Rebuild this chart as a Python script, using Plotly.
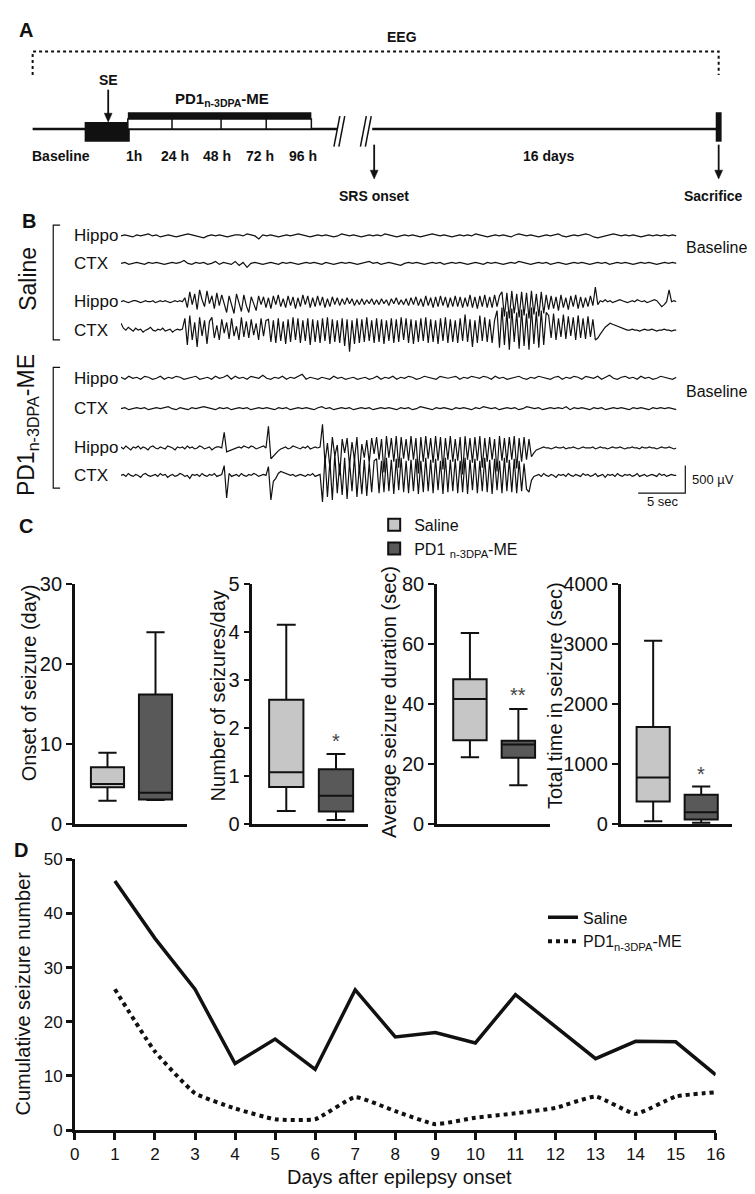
import numpy as np
import plotly.graph_objects as go

W, H = 755, 1194
FONT = "Liberation Sans, Arial, Helvetica, sans-serif"
INK = "#111111"

# ---------------- Panel B: EEG samples (amplitude in scale units; 28 units = 500 µV) ----------------
EEG_SECONDS = 59
SAL_BASE_HIPPO = [
    0, 1, 0, -1, 1, 0, 1, 2, 0, 1, -1, 0, 1, 0, -1, 0, 1, 2, 1, 0, -1, -2, 0, 1, 0, 1, 0, -1, 0, 1,
    1, 0, 2, 1, 0, -3, 1, 0, 1, 0, -1, 0, 1, 0, 1, 2, 1, 0, -1, 0, 1, 0, 1, 0, -1, 0, 2, 1, 0, 1,
    0, -1, 0, 1, 0, 1, 0, 2, 1, 0, -1, 0, 1, 0, 1, 0, -1, 0, 1, 2, 1, 0, 1, 0, -1, 0, 1, 0, 1, 0,
    2, 1, 0, -1, 0, 1, 0, 1, 0, -1, 1, 2, 1, 0, 1, 0, -1, 0, 1, 0, 1, 2, 0, -1, 0, 1, 0, 1, 2, 1,
    -1, -2, -1, 0, 1, 2, 1, 0, 1, 0, 1, 0, -1, 0, 1, 0, 1, 0, 1, 0, 1, 0]
SAL_BASE_CTX = [
    0, 1, -1, 0, 1, 0, -1, 1, 0, 1, 0, -1, 0, 1, 0, 1, 3, 0, -1, 1, 0, 1, -1, 0, 2, -1, 1, 0, -1, 2,
    -2, 1, -4, 0, 1, 0, -1, 0, 1, 0, -1, 1, 0, 1, 0, -1, 0, 1, 0, 1, 0, -1, 1, 0, -1, 0, 1, 0, 1, 0,
    -1, 0, 1, 2, 0, 1, -1, 0, 1, 0, -1, -2, 0, 1, 0, 1, 0, -1, 0, 1, 0, 1, -1, 0, 1, 0, 1, 0, -1, 0,
    1, 0, -1, 1, 0, 1, 0, -1, 0, 1, 0, 2, 1, 0, -1, 0, 1, 0, 1, -1, 0, 1, 0, -1, 0, 1, 0, 1, 0, -1,
    0, 1, 0, 1, -1, 0, 1, 0, 1, 0, -1, 0, 1, 0, 1, 0, -1, 0, 1, 0, 1, 0]
SAL_SEIZ_HIPPO = [
    0, 1, 0, -1, 0, 1, 1, 0, -1, 0, 1, 0, 0, 1, -1, 0, 1, 0, 1, 0, -1, 0, 1, 0, 1, 0,
    4, -6, 10, -3, 8, -8, 12, 2, -5, 11, -2, 6, -7, 9, -4,
    7, -2, -11, 6, -3, -12, 8, -1, -10, 7, -4, -11, 5, -2, -9, 6, -3,
    5, -6, 4, -7, 6, -3, 7, -5, 3, -6, 6, -4, 5, -7, 4, -5, 7, -3, 6, -6,
    4, -5, 6, -4, 5, -6, 3, -5, 5, -3, 4, -4, 3, -3, 4, -2, 3, -4, 2, -3,
    3, -3, 2, -2, 3, -3, 2, -3, 3, -2, 2, -4, 3, -2, 4, -3, 2, -3, 3, -4,
    4, -3, 5, -4, 3, -5, 6, -4, 4, -6, 5, -5, 6, -4, 5, -6, 4, -5, 6, -5,
    5, -6, 4, -5, 7, -6, 5, -7, 6, -5, 7, -6, 5, -6, 7, -5, 6,
    10, -15, 9, -17, 11, -12, 8, -16, 10, -14, 9, -17, 11, -13, 8, -15, 10, -12, 7,
    -8, 6, -7, 5, -9, 7, -6, 4, -8, 6, -5, 7, -7, 5, -6, 4, -5, 6, -4, 15, -3,
    1, 0, 2, 0, 1, -1, 0, 1, 2, 1, 0, -1, 0, 1, 0, 2, 1, 0, 1, -1, 0, 1, 2, 1, -2, -5, -3, 0, 12, 0, 1, 0]
SAL_SEIZ_CTX = [
    7, 2, 0, 3, 1, -1, 2, 0, 1, -2, 0, 1, 3, 0, -1, 1, 0, 2, -1, 0, 1, -2, 0, 1, 0, 1,
    12, -15, 15, -10, 8, -17, 13, -6, 10, -14, 9,
    13, -8, 5, -10, 11, -3, 8, -9, 12, -6, 4, -10, 13, -7, 9, -8, 11, -5, 7, -10, 12, -6, 10,
    11, -12, 10, -13, 12, -11, 9, -14, 11, -12, 13, -10, 12, -13, 10, -11, 12, -15, 11, -12,
    10, -13, 12, -11, 13, -14, 11, -12, 10, -13, 12, -16, 11, -22, 10, -14, 12, -13, 11, -12,
    13, -11, 10, -13, 12, -12, 11, -14, 10, -11, 12, -13, 11, -12, 13, -10, 12, -13, 11, -14,
    10, -12, 12, -11, 13, -13, 11, -12, 10, -14, 12, -11, 13, -13, 11, -12, 10, -13, 12, -11,
    16, -12, 11, -17, 10, -13, 15, -11, 13, -12, 11, -13, 10,
    20, -18, 23, -15, 19, -20, 22, -12, 18, -19, 21, -16, 17, -20, 23, -14, 19, -18, 20, -15, 18,
    15, -8, 17, -10, 12, -7, 16, -9, 14, -6, 13, -10, 15, -8, 12, -9, 14, -7, 11, -10, -8,
    -4, 0, 3, 5, 7, 6, 5, 4, 3, 2, 1, 0,
    0, 1, 0, 0, -1, 0, 1, 0, 0, 1, 0, -1, 0, 0, 1, 0, 0, -1, 0, 0]
PD1_BASE_HIPPO = [
    1, -1, 2, 0, 1, -1, 2, 1, -1, 0, 2, -1, 1, 0, 2, 1, -1, 0, 1, 2, -1, 0, 1, -1, 2, 0, 1, 3, -1, 2,
    0, 1, -1, 2, 1, 0, 3, 0, -1, 1, 0, 2, -1, 1, 0, 2, 4, -1, 1, 0, -1, 1, 0, -1, 2, 0, 1, -1, 0, 1,
    -1, 0, 1, -1, 0, 2, -1, 1, 0, 2, -1, 1, 0, 2, 1, -1, 0, 2, 1, 0, -1, 2, 1, 0, 1, 2, -1, 1, 0, 2,
    1, 0, 2, 1, -1, 2, 0, 1, -1, 0, 1, 2, 0, -1, 1, 0, 2, 1, 0, -1, 1, 2, -1, 1, 0, 2, 1, -1, 2, 1,
    0, 2, -1, 1, 3, 0, -1, 1, 2, 0, 1, -1, 2, 0, 1, -1, 0, 2, 1, 0, -1, 1]
PD1_BASE_CTX = [
    0, 1, -1, 0, 1, 0, 1, -1, 0, 1, 0, 1, 2, 0, -1, 1, 0, -1, 1, 0, 1, 2, 1, 0, -1, 1, 0, 1, -1, 0,
    1, 0, 1, -1, 0, 1, 0, 1, 0, -1, 1, 0, 1, -1, 0, 1, 0, 1, 0, -1, 1, 2, 0, 1, -1, 0, 1, 0, 1, -1,
    0, 1, 0, 1, -1, 0, 1, 0, 1, 0, -1, 1, 0, 1, -1, 0, 2, 1, 0, -1, 1, 0, 1, 0, -1, 1, 0, 1, 0, -1,
    1, 0, 2, 1, 0, 1, -1, 0, 1, 0, 1, -1, 0, 2, 1, 0, 1, -1, 0, 1, 0, 1, 0, 2, -1, 1, 0, 1, 0, -1,
    1, 0, 1, -1, 0, 1, 0, 1, 0, -1, 1, 0, 1, 0, -1, 1, 0, 1, 0, 1, 0, -1]
PD1_SEIZ_HIPPO = [
    1, -1, 2, 0, -2, 1, 0, 2, -1, 1, 0, -2, 1, 2, 0, -1, 1, 0, -1, 2, 1, 0, -2, 1, 0, 1, -1, 2, 0, 1,
    -1, 0, 2, 1, -1, 0, 1, -2, 0, 1, 1, 0,
    16, -4, -3, -2, -1, 0, 1, 0, 2, 1, 0, 2, 1, -1, 0, 1, 2, 0,
    22, -11, -8, -5, -3, -1, 0, 1, -1, 0, 2, 1, 0, -1, 1, 0, 2, -1, 0, 1, 0, 1,
    24, -15, 5, -20, 11, -8, 3, -28, 9, -5, 10, -18, 6, -12, 11, -26, 4, -10, 8, -15, 10, -6,
    11, -12, 9, -25, 12, -10, 10, -14, 12, -20, 11, -11, 9, -13, 12, -12, 10, -26, 11, -14,
    12, -11, 10, -15, 12, -13, 11, -22, 10, -12, 12, -14, 9, -13, 11, -27, 12, -12, 10, -15,
    11, -13, 12, -20, 10, -14, 11, -12, 9, -24, 12, -13, 10, -15, 11, -12, 12, -21, 10, -14,
    11, -12,
    9, -9, -5, -2, -1, 0, 1, 0, 0, -1, 0, 1, 0, 0, 1, -1, 0, 0, 1, 0, -1, 0, 1, 0, 0, 0, 1, -1, 0, 1,
    0, 0, -1, 0, 1, 0, 0, 1, 0, -1, 0, 0, 1, 0, 0, -1, 1, 0, 0, 1, 0, 0, -1, 0, 1, 0, 0, 1, 0, -1, 0]
PD1_SEIZ_CTX = [
    0, 1, -1, 2, 0, -1, 1, 0, -2, 1, 2, 0, -1, 0, 1, -1, 2, 0, 1, -2, 0, 1, -1, 0, 2, 1, -1, 0, -3, 1,
    0, 1, -1, 2, 0, -1, 1, 0, 2, -1, 0, 1,
    10, -23, 2, -1, 0, 1, -1, 2, 0, -1, 1, 0, 2, 1, -1, 0, 1, 0,
    9, -25, -6, -3, 2, 4, 3, 2, 1, 0, 1, -1, 0, 1, 0, -1, 1, 0, 2, -1, 0, 1,
    -27, 20, -22, 15, -25, 22, -18, 12, -20, 18, -24, 14, -16, 20, -22, 10, -19, 16, -21, 13, -17, 15,
    17, -18, 15, -17, 18, -16, 16, -19, 17, -15, 18, -17, 15, -18, 16, -16, 17, -19, 15, -17,
    18, -16, 16, -18, 17, -15, 15, -19, 18, -17, 16, -16, 17, -18, 15, -17, 18, -19, 16, -15,
    17, -18, 15, -16, 18, -17, 16, -19, 17, -15, 15, -18, 18, -16, 16, -17, 17, -18, 15, -16,
    12, -14,
    -17, -5, -1, 0, 1, -1, 2, 0, -1, 1, 0, -2, 1, 0, 1, -1, 2, 0, -1, 1, 0, -1, 2, 0, 1, -1, 0, 2, -1, 0,
    1, -2, 1, 0, 1, -1, 2, 0, -1, 1, 0, 1, -1, 0, 2, -1, 0, 1, -1, 0, 1, 0, -1, 2, 0, 1, -1, 0, 1, 0, 0]
EEG_CHANNELS = ["Hippo", "CTX", "Hippo", "CTX", "Hippo", "CTX", "Hippo", "CTX"]
EEG_SERIES = [SAL_BASE_HIPPO, SAL_BASE_CTX, SAL_SEIZ_HIPPO, SAL_SEIZ_CTX,
              PD1_BASE_HIPPO, PD1_BASE_CTX, PD1_SEIZ_HIPPO, PD1_SEIZ_CTX]

# ---------------- Panel C: box statistics [lower whisker, Q1, median, Q3, upper whisker] ----------------
C_GROUPS = ["Saline", "PD1 <sub>n-3DPA</sub>-ME"]
C_COLORS = ["#c6c6c6", "#595959"]
C_TITLES = ["Onset of seizure (day)", "Number of seizures/day",
            "Average seizure duration (sec)", "Total time in seizure (sec)"]
C_YMAX = [30, 5, 80, 4000]
C_DTICK = [10, 1, 20, 1000]
ONSET_SALINE = [2.9, 4.6, 5.0, 7.1, 8.9]
ONSET_PD1 = [3.0, 3.05, 3.9, 16.2, 24.0]
NUMBER_SALINE = [0.27, 0.77, 1.08, 2.59, 4.16]
NUMBER_PD1 = [0.08, 0.26, 0.59, 1.14, 1.46]
DURATION_SALINE = [22.3, 27.9, 41.7, 48.3, 63.8]
DURATION_PD1 = [12.9, 22.1, 26.5, 27.8, 38.4]
TOTAL_SALINE = [44, 376, 774, 1620, 3059]
TOTAL_PD1 = [20, 72, 193, 487, 625]
C_DATA = [(ONSET_SALINE, ONSET_PD1), (NUMBER_SALINE, NUMBER_PD1),
          (DURATION_SALINE, DURATION_PD1), (TOTAL_SALINE, TOTAL_PD1)]
SIGNIF_TEXT = ["", "*", "**", "*"]
SIGNIF_Y = [0, 1.73, 43, 830]

# ---------------- Panel D ----------------
DAYS = list(range(1, 17))
SALINE_CUM = [46, 35.4, 26, 12.3, 16.8, 11.2, 25.9, 17.2, 18, 16.1, 25, 19.1, 13.2, 16.4, 16.3, 10.2]
PD1_CUM = [26, 14.5, 6.8, 4, 2, 2, 6.1, 3.5, 1.1, 2.3, 3.1, 4.1, 6.2, 3, 6.2, 7]
D_XTICKS = list(range(0, 17))
D_NAMES = ["Saline", "PD1<sub>n-3DPA</sub>-ME"]

# ---------------- helpers (pixel -> paper) ----------------
def px(x):
    return x / W


def py(y):
    return 1 - y / H


fig = go.Figure()
layout = dict(width=W, height=H, margin=dict(l=0, r=0, t=0, b=0),
              paper_bgcolor="white", plot_bgcolor="rgba(0,0,0,0)",
              font=dict(family=FONT, color=INK), showlegend=True)
shapes, annotations = [], []


def text(x, y, s, size, bold=False, angle=0, xanchor="center", color=INK):
    annotations.append(dict(x=px(x), y=py(y), xref="paper", yref="paper",
                            text=f"<b>{s}</b>" if bold else s, showarrow=False,
                            font=dict(size=size, family=FONT, color=color),
                            xanchor=xanchor, yanchor="middle", textangle=angle))


def pline(x0, y0, x1, y1, width=2.5, dash="solid"):
    shapes.append(dict(type="line", xref="paper", yref="paper", x0=px(x0), y0=py(y0),
                       x1=px(x1), y1=py(y1), line=dict(color=INK, width=width, dash=dash)))


def prect(x0, y0, x1, y1, fill=INK, width=0):
    shapes.append(dict(type="rect", xref="paper", yref="paper", x0=px(x0), y0=py(y0),
                       x1=px(x1), y1=py(y1), fillcolor=fill,
                       line=dict(color=INK, width=width)))


def ppath(points, width, dash="solid", fill=None, closed=False):
    d = "M" + " L".join(f"{px(x)},{py(y)}" for x, y in points) + (" Z" if closed else "")
    shp = dict(type="path", xref="paper", yref="paper", path=d,
               line=dict(color=INK, width=width, dash=dash))
    if fill:
        shp["fillcolor"] = fill
    shapes.append(shp)


def arrow(x, y_tail, y_head):
    pline(x, y_tail, x, y_head - 6, 1.8)
    ppath([(x - 4, y_head - 9), (x + 4, y_head - 9), (x, y_head)], 0.5, fill=INK, closed=True)


HIDDEN_AXIS = dict(showline=False, showgrid=False, zeroline=False, showticklabels=False,
                   ticks="", fixedrange=True)

# ================= Panel A: timeline schematic =================
text(13, 11, "A", 20, bold=True)
ppath([(20, 57), (20, 33), (719, 33), (719, 57)], 2, "dot")
text(396, 18, "EEG", 14, bold=True)
pline(20, 112, 331, 112, 2.5)
pline(366, 112, 719, 112, 2.5)
prect(73, 105, 119, 125)
prect(117, 95, 304, 102)
prect(117, 102, 304, 112, fill="white", width=1.5)
for xd in (162, 212, 258):
    pline(xd, 102, xd, 112, 1.5)
for xs in (333, 338, 360, 365):
    pline(xs, 99, xs - 6, 130, 1.5)
prect(716, 95, 722, 125)
text(97, 62, "SE", 14, bold=True)
arrow(97, 72, 105)
text(213, 82, "PD1<sub>n-3DPA</sub>-ME", 15, bold=True)
for lx, lab in [(49, "Baseline"), (123, "1h"), (165, "24 h"), (208, "48 h"),
                (252, "72 h"), (295, "96 h"), (546, "16 days")]:
    text(lx, 140, lab, 14, bold=True)
arrow(368, 128, 163)
arrow(719, 128, 163)
text(368, 180, "SRS onset", 14, bold=True)
text(714, 180, "Sacrifice", 14, bold=True)

# ================= Panel B: EEG traces =================
text(16, 206, "B", 20, bold=True)
ROW_CENTERS = [221, 249, 288, 317, 366, 397, 437, 465]
for i, (chan, vals, yc) in enumerate(zip(EEG_CHANNELS, EEG_SERIES, ROW_CENTERS)):
    n = i + 2
    fig.add_trace(go.Scatter(x=np.linspace(0, EEG_SECONDS, len(vals)), y=vals, mode="lines",
                             line=dict(color=INK, width=1.2), xaxis=f"x{n}", yaxis=f"y{n}",
                             showlegend=False, hoverinfo="skip"))
    layout[f"xaxis{n}"] = dict(domain=[px(110), px(676)], range=[0, EEG_SECONDS],
                               anchor=f"y{n}", **HIDDEN_AXIS)
    layout[f"yaxis{n}"] = dict(domain=[py(yc + 34), py(yc - 34)], range=[-34, 34],
                               anchor=f"x{n}", **HIDDEN_AXIS)
    text(60, yc, chan, 17, xanchor="left")
ppath([(48, 210), (41, 210), (41, 327), (48, 327)], 1.2)
ppath([(48, 355), (41, 355), (41, 478), (48, 478)], 1.2)
text(15, 265, "Saline", 23, angle=-90)
text(15, 414, "PD1<sub>n-3DPA</sub>-ME", 23, angle=-90)
text(684, 233, "Baseline", 16, xanchor="left")
text(684, 380, "Baseline", 16, xanchor="left")
ppath([(637, 483), (685, 483), (685, 455)], 1.2)
text(690, 469, "500 µV", 13, xanchor="left")
text(662, 492, "5 sec", 13)

# ================= Panel C: box plots =================
text(13, 517, "C", 20, bold=True)
C_XDOM = [(63, 177), (244, 362), (432, 547), (619, 733)]
C_TITLE_POS = [(16, 676), (209, 690), (383, 696), (553, 689)]
for k, (pair, (xa, xb)) in enumerate(zip(C_DATA, C_XDOM)):
    n = 10 + k
    for g, st in enumerate(pair):
        fig.add_trace(go.Box(x=[g], lowerfence=[st[0]], q1=[st[1]], median=[st[2]],
                             q3=[st[3]], upperfence=[st[4]], width=0.69, whiskerwidth=0.55,
                             fillcolor=C_COLORS[g], line=dict(color=INK, width=2),
                             name=C_GROUPS[g], legendgroup=C_GROUPS[g], showlegend=(k == 0),
                             legend="legend", boxpoints=False, hoverinfo="skip",
                             xaxis=f"x{n}", yaxis=f"y{n}"))
    layout[f"xaxis{n}"] = dict(domain=[px(xa), px(xb)], range=[-0.68, 1.65], anchor=f"y{n}",
                               showline=True, linecolor=INK, linewidth=2.5,
                               showticklabels=False, ticks="", showgrid=False,
                               zeroline=False, fixedrange=True)
    layout[f"yaxis{n}"] = dict(domain=[py(820), py(576)], range=[0, C_YMAX[k]],
                               anchor=f"x{n}", tick0=0, dtick=C_DTICK[k], ticks="outside",
                               ticklen=6, tickwidth=2, tickcolor=INK, showline=True,
                               linecolor=INK, linewidth=2.5, tickfont=dict(size=20),
                               showgrid=False, zeroline=False, fixedrange=True)
    tx, ty = C_TITLE_POS[k]
    text(tx, ty, C_TITLES[k], 20, angle=-90)
    if SIGNIF_TEXT[k]:
        annotations.append(dict(x=1, y=SIGNIF_Y[k], xref=f"x{n}", yref=f"y{n}",
                                text=SIGNIF_TEXT[k], showarrow=False,
                                font=dict(size=20, color="#444444"),
                                xanchor="center", yanchor="middle"))

layout["legend"] = dict(x=px(368), y=py(498), xanchor="left", yanchor="top",
                        font=dict(size=16), bgcolor="rgba(0,0,0,0)", tracegroupgap=0)

# ================= Panel D: cumulative seizures =================
text(8, 847, "D", 20, bold=True)
fig.add_trace(go.Scatter(x=DAYS, y=SALINE_CUM, mode="lines", name=D_NAMES[0],
                         line=dict(color=INK, width=3.5), legend="legend2",
                         xaxis="x14", yaxis="y14", hoverinfo="skip"))
fig.add_trace(go.Scatter(x=DAYS, y=PD1_CUM, mode="lines", name=D_NAMES[1],
                         line=dict(color=INK, width=4, dash="dot", shape="spline", smoothing=0.4),
                         legend="legend2", xaxis="x14", yaxis="y14", hoverinfo="skip"))
layout["xaxis14"] = dict(domain=[px(63), px(716)], range=[0, 16], anchor="y14",
                         tickmode="array", tickvals=D_XTICKS, ticks="outside", ticklen=7,
                         tickwidth=2.5, tickcolor=INK, showline=True, linecolor=INK,
                         linewidth=2.5, tickfont=dict(size=17), showgrid=False,
                         zeroline=False, fixedrange=True)
layout["yaxis14"] = dict(domain=[py(1132), py(856)], range=[0, 50], anchor="x14",
                         tick0=0, dtick=10, ticks="outside", ticklen=6, tickwidth=2.5,
                         tickcolor=INK, showline=True, linecolor=INK, linewidth=2.5,
                         tickfont=dict(size=17), showgrid=False, zeroline=False,
                         fixedrange=True)
text(10, 993, "Cumulative seizure number", 20, angle=-90)
text(394, 1180, "Days after epilepsy onset", 20)
layout["legend2"] = dict(x=px(540), y=py(898), xanchor="left", yanchor="top",
                         font=dict(size=16), bgcolor="rgba(0,0,0,0)")

layout["shapes"] = shapes
layout["annotations"] = annotations
fig.update_layout(**layout)
fig.write_html("out.html")
